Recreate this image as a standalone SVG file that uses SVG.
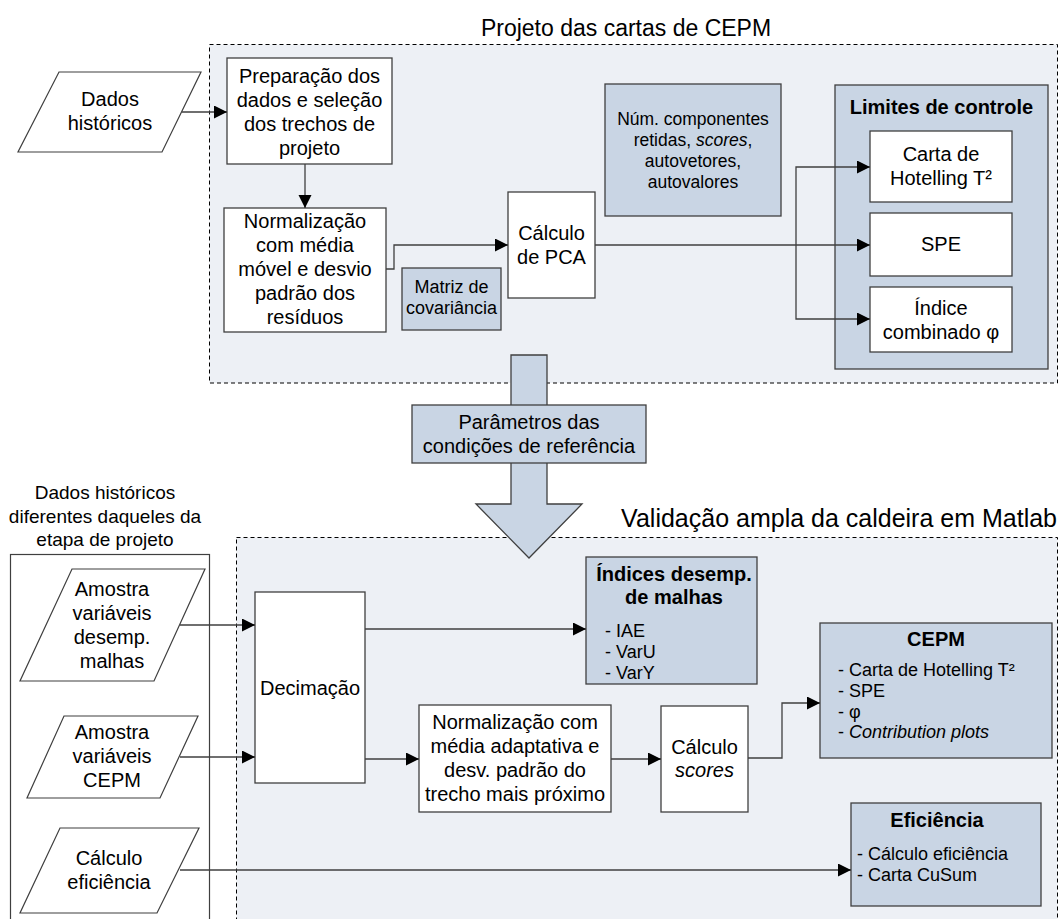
<svg xmlns="http://www.w3.org/2000/svg" width="1062" height="919" viewBox="0 0 1062 919">
  <defs>
    <marker id="arrow" markerUnits="userSpaceOnUse" markerWidth="15" markerHeight="15" refX="13" refY="6.5" orient="auto">
      <path d="M0,0 L13,6.5 L0,13 Z" fill="#000"/>
    </marker>
    <style>
      text { font-family: "Liberation Sans", Arial, sans-serif; fill: #000; }
      .t { font-size: 20px; text-anchor: middle; }
      .s { font-size: 18px; text-anchor: middle; }
      .hd { font-size: 20px; font-weight: bold; text-anchor: middle; }
      .it { font-size: 18px; text-anchor: start; }
      .i { font-style: italic; }
      .region { fill: #EDF0F5; stroke: #000; stroke-width: 1; stroke-dasharray: 4 3; }
      .box { fill: #FFFFFF; stroke: #3F3F3F; stroke-width: 1.3; }
      .blue { fill: #C9D5E4; stroke: #3F3F3F; stroke-width: 1.3; }
      .io { fill: #FFFFFF; stroke: #3F3F3F; stroke-width: 1.2; }
      .conn { fill: none; stroke: #3F3F3F; stroke-width: 1.3; }
    </style>
  </defs>

  <rect x="0" y="0" width="1062" height="919" fill="#FFFFFF"/>

  <!-- Stage regions -->
  <g id="region-projeto">
    <rect class="region" x="209.5" y="44.5" width="848" height="338.5"/>
    <text x="626" y="36" text-anchor="middle" font-size="23">Projeto das cartas de CEPM</text>
  </g>
  <g id="region-validacao">
    <rect class="region" x="236.5" y="537.5" width="821" height="400"/>
    <text x="1057" y="527" text-anchor="end" font-size="25">Validação ampla da caldeira em Matlab</text>
  </g>
  <g id="group-dados-validacao">
    <rect x="10.5" y="554.5" width="199" height="380" fill="none" stroke="#3F3F3F" stroke-width="1.2"/>
    <text class="t" x="105" y="499" style="font-size:19px">Dados históricos</text>
    <text class="t" x="105" y="523" style="font-size:19px">diferentes daqueles da</text>
    <text class="t" x="105" y="546" style="font-size:19px">etapa de projeto</text>
  </g>

  <!-- Design stage nodes -->
  <g id="dados-historicos">
    <polygon class="io" points="59,72 201,72 162,152 18,152"/>
    <text class="t" x="110" y="106">Dados</text>
    <text class="t" x="110" y="130">históricos</text>
  </g>
  <g id="preparacao">
    <rect class="box" x="227" y="58" width="165" height="106"/>
    <text class="t" x="309.5" y="83">Preparação dos</text>
    <text class="t" x="309.5" y="107">dados e seleção</text>
    <text class="t" x="309.5" y="131">dos trechos de</text>
    <text class="t" x="309.5" y="155">projeto</text>
  </g>
  <g id="normalizacao-movel">
    <rect class="box" x="224" y="208" width="162" height="124"/>
    <text class="t" x="305" y="228">Normalização</text>
    <text class="t" x="305" y="252">com média</text>
    <text class="t" x="305" y="276">móvel e desvio</text>
    <text class="t" x="305" y="300">padrão dos</text>
    <text class="t" x="305" y="324">resíduos</text>
  </g>
  <g id="matriz-covariancia">
    <rect class="blue" x="402" y="268" width="99" height="62"/>
    <text class="s" x="451.5" y="293">Matriz de</text>
    <text class="s" x="451.5" y="314">covariância</text>
  </g>
  <g id="calculo-pca">
    <rect class="box" x="508" y="192" width="87" height="106"/>
    <text class="t" x="551.5" y="240">Cálculo</text>
    <text class="t" x="551.5" y="264">de PCA</text>
  </g>
  <g id="componentes">
    <rect class="blue" x="605" y="84" width="176" height="132"/>
    <text class="s" x="693" y="124.5" style="font-size:17.5px">Núm. componentes</text>
    <text class="s" x="693" y="145.5" style="font-size:17.5px">retidas, <tspan class="i">scores</tspan>,</text>
    <text class="s" x="693" y="167" style="font-size:17.5px">autovetores,</text>
    <text class="s" x="693" y="188" style="font-size:17.5px">autovalores</text>
  </g>
  <g id="limites-controle">
    <rect class="blue" x="835" y="85" width="213" height="284"/>
    <text class="hd" x="941.5" y="114">Limites de controle</text>
  </g>
  <g id="carta-hotelling">
    <rect class="box" x="870" y="131" width="142" height="71"/>
    <text class="t" x="941" y="161">Carta de</text>
    <text class="t" x="941" y="185">Hotelling T²</text>
  </g>
  <g id="spe">
    <rect class="box" x="870" y="213" width="142" height="63"/>
    <text class="t" x="941" y="251">SPE</text>
  </g>
  <g id="indice-combinado">
    <rect class="box" x="870" y="287" width="142" height="65"/>
    <text class="t" x="941" y="314.5">Índice</text>
    <text class="t" x="941" y="338.5">combinado φ</text>
  </g>

  <!-- Transfer of reference parameters -->
  <g id="parametros">
    <path class="blue" d="M511,355 H547 V504 H582 L529,558 L476,504 H511 Z"/>
    <rect class="blue" x="412" y="405" width="234" height="58"/>
    <text class="t" x="529" y="429">Parâmetros das</text>
    <text class="t" x="529" y="453">condições de referência</text>
  </g>

  <!-- Validation stage nodes -->
  <g id="amostra-malhas">
    <polygon class="io" points="72,569 205,569 154,681 20,681"/>
    <text class="t" x="112" y="596">Amostra</text>
    <text class="t" x="112" y="620">variáveis</text>
    <text class="t" x="112" y="644">desemp.</text>
    <text class="t" x="112" y="668">malhas</text>
  </g>
  <g id="amostra-cepm">
    <polygon class="io" points="64,716 198,716 160,798 27,798"/>
    <text class="t" x="112" y="739">Amostra</text>
    <text class="t" x="112" y="763">variáveis</text>
    <text class="t" x="112" y="787">CEPM</text>
  </g>
  <g id="calculo-eficiencia-in">
    <polygon class="io" points="60,828 199,828 157,913 20,913"/>
    <text class="t" x="109" y="865">Cálculo</text>
    <text class="t" x="109" y="889">eficiência</text>
  </g>
  <g id="decimacao">
    <rect class="box" x="255" y="592" width="110" height="191"/>
    <text class="t" x="310" y="695">Decimação</text>
  </g>
  <g id="indices-desempenho">
    <rect class="blue" x="586" y="557" width="171" height="127"/>
    <text class="hd" x="674" y="581">Índices desemp.</text>
    <text class="hd" x="674" y="604">de malhas</text>
    <text class="it" x="605" y="637">- IAE</text>
    <text class="it" x="605" y="658">- VarU</text>
    <text class="it" x="605" y="679">- VarY</text>
  </g>
  <g id="normalizacao-adaptativa">
    <rect class="box" x="419" y="705" width="192" height="107"/>
    <text class="t" x="515" y="728.5">Normalização com</text>
    <text class="t" x="515" y="752.5">média adaptativa e</text>
    <text class="t" x="515" y="776.5">desv. padrão do</text>
    <text class="t" x="515" y="800.5">trecho mais próximo</text>
  </g>
  <g id="calculo-scores">
    <rect class="box" x="661" y="706" width="87" height="106"/>
    <text class="t" x="704.5" y="754">Cálculo</text>
    <text class="t i" x="704.5" y="777">scores</text>
  </g>
  <g id="cepm">
    <rect class="blue" x="820" y="623" width="232" height="135"/>
    <text class="hd" x="936" y="646">CEPM</text>
    <text class="it" x="838" y="676">- Carta de Hotelling T²</text>
    <text class="it" x="838" y="697">- SPE</text>
    <text class="it" x="838" y="717.5">- φ</text>
    <text class="it" x="838" y="738">- <tspan class="i">Contribution plots</tspan></text>
  </g>
  <g id="eficiencia">
    <rect class="blue" x="851" y="803" width="190" height="103"/>
    <text class="hd" x="937" y="827">Eficiência</text>
    <text class="it" x="857" y="860">- Cálculo eficiência</text>
    <text class="it" x="857" y="881">- Carta CuSum</text>
  </g>

  <!-- Connectors (drawn over the containers they cross) -->
  <g id="connectors">
    <path class="conn" d="M182,112 H227" marker-end="url(#arrow)"/>
    <path class="conn" d="M305,164 V208" marker-end="url(#arrow)"/>
    <path class="conn" d="M386,269 H394 V245 H508" marker-end="url(#arrow)"/>
    <path class="conn" d="M595,245 H870" marker-end="url(#arrow)"/>
    <path class="conn" d="M796,245 V167 H870" marker-end="url(#arrow)"/>
    <path class="conn" d="M796,245 V319 H870" marker-end="url(#arrow)"/>
    <path class="conn" d="M180,625 H255" marker-end="url(#arrow)"/>
    <path class="conn" d="M180,757 H255" marker-end="url(#arrow)"/>
    <path class="conn" d="M180,870 H851" marker-end="url(#arrow)"/>
    <path class="conn" d="M365,629 H586" marker-end="url(#arrow)"/>
    <path class="conn" d="M365,759 H419" marker-end="url(#arrow)"/>
    <path class="conn" d="M611,759 H661" marker-end="url(#arrow)"/>
    <path class="conn" d="M748,758 H782 V703 H820" marker-end="url(#arrow)"/>
  </g>
</svg>
